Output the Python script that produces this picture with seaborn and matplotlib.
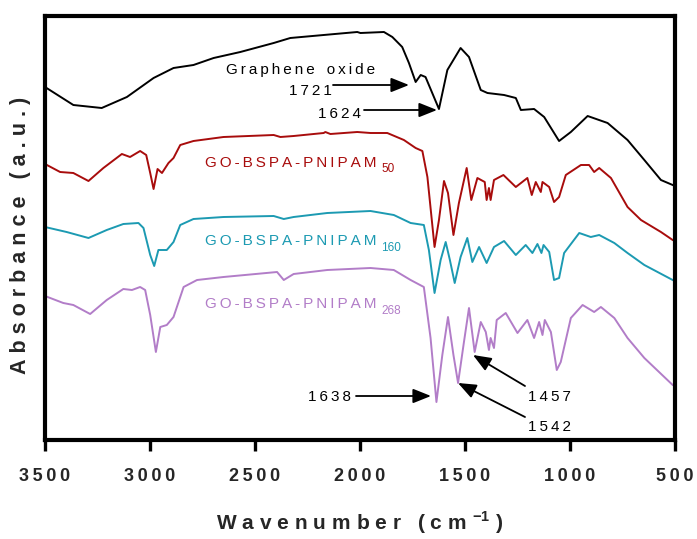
import matplotlib
matplotlib.use('Agg')
import matplotlib.pyplot as plt
import pandas as pd
import seaborn as sns

# ---------------- data (wavenumber cm-1, absorbance a.u., offset spectra) ----------------
go_wn = [3500, 3365, 3230, 3110, 2983, 2888, 2793, 2697, 2570, 2411, 2332, 2173, 2013, 1998,
         1886, 1846, 1799, 1767, 1735, 1711, 1688, 1624, 1584, 1521, 1481, 1425, 1393, 1314,
         1258, 1234, 1171, 1123, 1052, 996, 916, 821, 726, 646, 567, 511, 500]
go_abs = [3.53, 3.35, 3.32, 3.43, 3.62, 3.72, 3.75, 3.82, 3.88, 3.97, 4.02, 4.05, 4.08, 4.07,
          4.08, 4.03, 3.93, 3.77, 3.58, 3.65, 3.63, 3.31, 3.70, 3.92, 3.83, 3.50, 3.47, 3.45,
          3.42, 3.30, 3.31, 3.23, 2.99, 3.08, 3.24, 3.17, 3.00, 2.80, 2.60, 2.55, 2.54]

p50_wn = [3500, 3428, 3365, 3293, 3222, 3134, 3095, 3047, 3018, 2999, 2983, 2964, 2943, 2912,
          2888, 2856, 2793, 2650, 2411, 2379, 2316, 2173, 2165, 2141, 2013, 1950, 1870, 1791,
          1735, 1703, 1679, 1645, 1624, 1600, 1581, 1555, 1529, 1492, 1470, 1441, 1406, 1397,
          1386, 1378, 1362, 1317, 1258, 1203, 1182, 1163, 1139, 1131, 1099, 1076, 1052, 1020,
          948, 909, 885, 861, 805, 726, 662, 567, 511, 500]
p50_abs = [2.76, 2.68, 2.67, 2.59, 2.72, 2.86, 2.83, 2.89, 2.85, 2.67, 2.51, 2.71, 2.67, 2.77,
           2.82, 2.95, 2.99, 3.03, 3.05, 3.03, 3.04, 3.07, 3.08, 3.06, 3.08, 3.07, 3.07, 3.00,
           2.92, 2.89, 2.63, 1.93, 2.20, 2.59, 2.47, 2.05, 2.37, 2.72, 2.40, 2.62, 2.58, 2.40,
           2.52, 2.40, 2.60, 2.65, 2.53, 2.62, 2.45, 2.58, 2.48, 2.58, 2.53, 2.38, 2.43, 2.65,
           2.75, 2.75, 2.68, 2.72, 2.62, 2.33, 2.20, 2.08, 2.00, 1.99]

p160_wn = [3500, 3397, 3293, 3206, 3127, 3055, 3031, 2999, 2980, 2960, 2920, 2888, 2856, 2793,
           2650, 2411, 2363, 2316, 2156, 1950, 1839, 1759, 1696, 1672, 1645, 1616, 1592, 1572,
           1549, 1521, 1489, 1465, 1433, 1397, 1362, 1314, 1258, 1211, 1179, 1155, 1136, 1126,
           1099, 1076, 1052, 1028, 956, 901, 861, 789, 726, 646, 511, 500]
p160_abs = [2.13, 2.08, 2.02, 2.10, 2.16, 2.17, 2.12, 1.85, 1.74, 1.90, 1.90, 1.98, 2.15, 2.21,
            2.23, 2.24, 2.21, 2.23, 2.27, 2.29, 2.25, 2.17, 2.15, 1.90, 1.47, 1.80, 1.98, 1.80,
            1.57, 1.83, 2.02, 1.78, 1.93, 1.77, 1.93, 1.99, 1.85, 1.95, 1.87, 1.96, 1.87, 1.95,
            1.88, 1.60, 1.62, 1.87, 2.07, 2.03, 2.05, 1.97, 1.87, 1.75, 1.60, 1.59]

p268_wn = [3500, 3413, 3365, 3285, 3206, 3127, 3086, 3047, 3023, 2999, 2972, 2951, 2920, 2888,
           2840, 2776, 2650, 2395, 2363, 2316, 2156, 1950, 1839, 1759, 1696, 1664, 1636, 1608,
           1581, 1555, 1533, 1505, 1481, 1454, 1425, 1401, 1386, 1378, 1362, 1349, 1306, 1250,
           1203, 1171, 1147, 1131, 1120, 1091, 1063, 1044, 996, 940, 885, 853, 789, 726, 646,
           511, 500]
p268_abs = [1.44, 1.37, 1.35, 1.26, 1.40, 1.51, 1.50, 1.53, 1.50, 1.25, 0.88, 1.13, 1.15, 1.23,
            1.53, 1.60, 1.63, 1.68, 1.60, 1.66, 1.70, 1.72, 1.70, 1.60, 1.53, 1.02, 0.38, 0.85,
            1.23, 0.85, 0.57, 0.98, 1.32, 0.88, 1.18, 1.08, 0.90, 1.02, 0.92, 1.20, 1.27, 1.07,
            1.20, 1.02, 1.18, 1.05, 1.20, 1.08, 0.70, 0.78, 1.22, 1.35, 1.28, 1.33, 1.22, 1.02,
            0.82, 0.55, 0.54]

series_names = ["Graphene oxide", "GO-BSPA-PNIPAM50", "GO-BSPA-PNIPAM160", "GO-BSPA-PNIPAM268"]
series_colors = ["#000000", "#A80C0C", "#1C9AB2", "#B27DC8"]
x_ticks = [3500, 3000, 2500, 2000, 1500, 1000, 500]
peak_labels = ["1721", "1624", "1638", "1542", "1457"]

# ---------------- style ----------------
sns.set_theme(style="white")
plt.rcParams['font.family'] = ['Liberation Sans', 'DejaVu Sans']
plt.rcParams['mathtext.fontset'] = 'custom'
plt.rcParams['mathtext.rm'] = 'Liberation Sans'
plt.rcParams['mathtext.bf'] = 'Liberation Sans:bold'

TS = '\u2009'
HS = '\u200a'


def spaced(s, gap=TS, word=TS * 4):
    return word.join(gap.join(list(w)) for w in s.split(' '))


W, H = 697, 539
fig = plt.figure(figsize=(W / 100, H / 100), dpi=100)
L, R, T, B = 45, 675, 16, 440
ax = fig.add_axes([L / W, 1 - B / H, (R - L) / W, (B - T) / H])

XMAX, XMIN = 3500, 500
YMIN, YMAX = 0.0, 4.24


def P(px, py):
    """pixel position -> data position (for annotation placement)"""
    x = XMAX - (px - L) * (XMAX - XMIN) / (R - L)
    y = YMIN + (B - py) * (YMAX - YMIN) / (B - T)
    return x, y


frames = []
for name, wn, ab in zip(series_names, [go_wn, p50_wn, p160_wn, p268_wn],
                        [go_abs, p50_abs, p160_abs, p268_abs]):
    frames.append(pd.DataFrame({"wn": wn, "abs": ab, "sample": name}))
df = pd.concat(frames, ignore_index=True)

for name, col in zip(series_names, series_colors):
    sub = df[df["sample"] == name]
    sns.lineplot(data=sub, x="wn", y="abs", color=col, lw=1.4, ax=ax,
                 estimator=None, sort=False, legend=False)

ax.set_xlim(XMAX, XMIN)
ax.set_ylim(YMIN, YMAX)
ax.set_yticks([])
ax.set_xticks(x_ticks)
ax.set_xticklabels([spaced(str(t)) for t in x_ticks], fontsize=13, fontweight='bold')
ax.tick_params(axis='x', direction='out', length=8, width=2.4, pad=12, color='black',
               bottom=True)
for sp in ax.spines.values():
    sp.set_linewidth(3)
    sp.set_color('black')

ax.set_xlabel('')
ax.set_ylabel('')
G2 = TS + HS
fig.text(360 / W, 1 - 523 / H,
         spaced('Wavenumber', G2) + TS * 4 + spaced('(cm', G2) + G2 + r'$^{\mathbf{-1}}$' + G2 + ')',
         ha='center', va='center', fontsize=15, fontweight='bold')
fig.text(21 / W, 1 - 235 / H, spaced('Absorbance (a.u.)', TS + HS, TS * 4),
         ha='center', va='center', rotation=90, fontsize=15.5, fontweight='bold')

# sample labels
lab_fs = 11
ax.text(*P(301, 70), spaced('Graphene oxide'), ha='center', va='center',
        fontsize=lab_fs, color=series_colors[0])
for name, col, sub, yc, ys in zip(series_names[1:], series_colors[1:], ["50", "160", "268"],
                                  [163, 241, 304], [169, 247.5, 311]):
    ax.text(*P(377, yc), spaced('GO-BSPA-PNIPAM'), ha='right', va='center',
            fontsize=lab_fs, color=col)
    ax.text(*P(381, ys), sub, ha='left', va='center', fontsize=8.5, color=col)

# peak annotations
arrow_kw = dict(arrowstyle='-|>,head_length=0.55,head_width=0.22', color='black', lw=1.3,
                mutation_scale=20, shrinkA=0, shrinkB=0)
# (label, text center px, arrow tail px, arrow tip px)
ann = [
    (peak_labels[0], (310, 91), (333, 85), (409, 85)),
    (peak_labels[1], (340, 114), (364, 110), (437, 110)),
    (peak_labels[2], (330, 397), (356, 396), (431, 396)),
    (peak_labels[3], (550, 427), (525, 417), (458, 383)),
    (peak_labels[4], (549, 397), (525, 386), (473, 355)),
]
for lab, tc, tail, tip in ann:
    ax.text(*P(*tc), spaced(lab), ha='center', va='center', fontsize=lab_fs, color='black')
    ax.annotate('', xy=P(*tip), xytext=P(*tail), arrowprops=arrow_kw)

fig.savefig('out.png', dpi=100, facecolor='white')
